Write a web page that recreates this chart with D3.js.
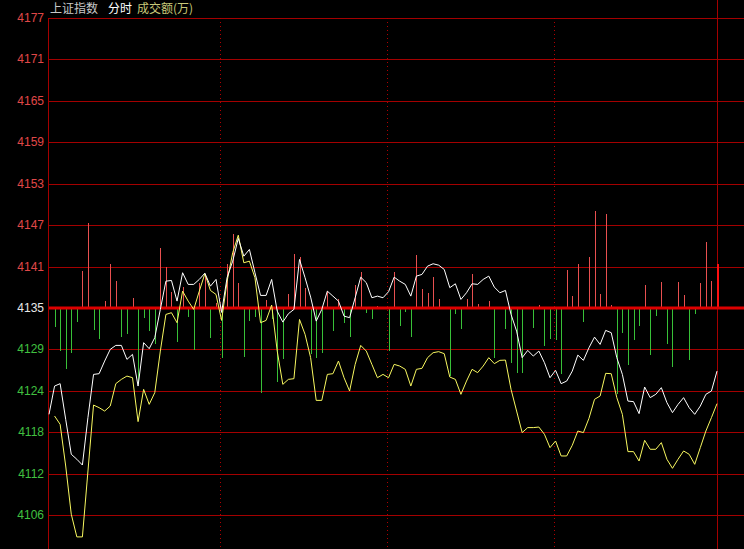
<!DOCTYPE html>
<html>
<head>
<meta charset="utf-8">
<script src="https://cdn.jsdelivr.net/npm/d3@7"></script>
<style>
  html, body { margin: 0; padding: 0; background: #000; }
  svg { display: block; }
</style>
</head>
<body>
<div id="area"></div>
<script>
var width = 744;
var height = 549;

var prevClose = 4135;
var tickStep = 5.9;
var tickLabels = ["4106", "4112", "4118", "4124", "4129", "4135", "4141", "4147", "4153", "4159", "4165", "4171", "4177"];
var sessionMarks = [30.7, 60.7, 90.7];   // hourly dotted lines (in sample units)

// white line: 上证指数 (weighted)
var indexLine = [
  4119.84, 4123.87, 4124.21, 4119.13, 4114.15, 4113.44, 4112.62, 4119.41, 4125.53, 4125.63,
  4127.43, 4129.09, 4129.66, 4129.66, 4127.67, 4128.38, 4123.87, 4130.05, 4129.19, 4130.76,
  4134.79, 4138.81, 4138.91, 4135.97, 4140.01, 4138.35, 4138.35, 4139.06, 4139.95, 4138.10,
  4139.06, 4134.36, 4139.34, 4141.66, 4144.90, 4142.37, 4143.33, 4140.01, 4136.78, 4136.78,
  4139.06, 4134.54, 4132.98, 4134.17, 4134.79, 4141.90, 4139.30, 4136.54, 4133.12, 4134.79,
  4137.39, 4136.68, 4135.97, 4133.83, 4133.61, 4136.45, 4139.38, 4138.59, 4136.45, 4136.68,
  4136.45, 4137.31, 4139.38, 4138.81, 4138.35, 4136.68, 4139.53, 4139.77, 4140.95, 4141.29,
  4141.09, 4140.48, 4137.88, 4138.44, 4136.21, 4137.16, 4138.44, 4138.35, 4139.06, 4139.53,
  4137.96, 4137.16, 4137.49, 4134.07, 4131.70, 4127.91, 4128.95, 4128.14, 4128.85, 4127.20,
  4125.06, 4126.10, 4124.21, 4124.58, 4126.00, 4128.28, 4127.53, 4129.33, 4130.84, 4129.80,
  4131.80, 4131.47, 4127.91, 4125.53, 4121.73, 4121.65, 4119.94, 4123.73, 4122.22, 4122.69,
  4123.64, 4121.51, 4120.08, 4121.26, 4122.22, 4120.79, 4119.84, 4121.02, 4122.69, 4123.16,
  4126.00
];

// yellow line: unweighted average
var leadLine = [
  null,    4119.60, 4118.42, 4112.48, 4105.61, 4102.38, 4102.38, 4111.77, 4121.16, 4120.79,
  4120.31, 4121.02, 4124.21, 4124.82, 4125.29, 4125.06, 4118.80, 4123.40, 4121.26, 4122.93,
  4128.85, 4134.07, 4134.32, 4132.89, 4137.39, 4135.97, 4134.79, 4137.39, 4139.87, 4137.49,
  4136.92, 4133.22, 4138.81, 4142.86, 4145.36, 4141.43, 4141.66, 4139.30, 4132.89, 4133.22,
  4135.40, 4128.85, 4124.11, 4124.82, 4124.92, 4133.36, 4131.23, 4127.91, 4121.83, 4121.83,
  4125.53, 4125.63, 4127.43, 4125.06, 4123.16, 4126.96, 4129.66, 4128.85, 4126.96, 4125.06,
  4125.53, 4125.06, 4126.96, 4126.72, 4126.25, 4123.87, 4126.25, 4126.39, 4127.91, 4128.62,
  4128.77, 4128.48, 4125.15, 4124.82, 4122.69, 4124.58, 4126.25, 4125.78, 4126.72, 4127.91,
  4127.06, 4127.53, 4127.57, 4123.40, 4120.31, 4117.24, 4117.95, 4117.95, 4118.03, 4117.00,
  4115.10, 4116.04, 4113.91, 4113.91, 4115.43, 4117.46, 4117.24, 4119.27, 4121.98, 4122.45,
  4125.68, 4125.63, 4122.22, 4119.84, 4114.53, 4114.53, 4113.19, 4116.14, 4114.86, 4114.86,
  4115.81, 4113.44, 4112.15, 4113.44, 4114.62, 4114.15, 4112.72, 4115.10, 4117.46, 4119.37,
  4121.36
];

// red / green strength bars, in index points around the previous close
var strength = [
   0.00, -2.73, -6.15, -8.75, -6.38, -1.96,  5.24, 12.12, -3.16, -4.44,
   0.92,  6.29,  3.81, -4.16, -3.77,  1.35,-10.89, -1.49, -3.30, -5.12,
   8.54,  5.76,  2.21, -4.87,  2.92, -1.28, -6.05,  3.49,  4.77, -4.30,
   0.71, -7.19,  6.19, 10.46,  3.59, -6.97, -1.88, -1.28,-12.07,  1.07,
  -1.64,-10.60, -7.33,  1.92,  7.61,  7.19,  2.77, -6.62, -7.09, -6.38,
   2.35, -3.27,  1.21, -2.11, -4.13,  3.20,  5.12, -0.74, -1.57,  0.21,
   0.00, -6.19,  5.05, -2.59, -0.57, -4.13,  7.47,  2.63,  2.16,  4.34,
   1.21,  0.14, -9.71, -0.85, -2.96,  1.21,  4.77,  0.50,  0.14,  0.92,
  -7.14,  0.00, -3.06, -7.80, -9.22, -9.22,  0.00, -2.82,  0.36, -5.44,
  -4.41, -4.55, -9.39,  5.34,  1.68,  6.30, -1.99,  7.19, 13.80,  2.02,
  13.31,  0.40,-12.31, -3.59, -8.14, -4.62, -2.59,  3.23, -6.72, -1.17,
   3.63, -5.15, -8.40,  3.63,  1.78, -7.47, -0.88,  3.59,  9.46,  3.81,
   6.30
];

var svg = d3.select("#area").append("svg")
    .attr("width", width)
    .attr("height", height)
    .style("background", "#000");

var x = d3.scaleLinear().domain([0, indexLine.length - 1]).range([49, 717]);
var y = d3.scaleLinear()
    .domain([prevClose - 5 * tickStep, prevClose + 7 * tickStep])
    .range([515, 18]);

var ticks = tickLabels.map(function(t, i) { return { label: t, v: prevClose + (i - 5) * tickStep }; });

// horizontal grid
svg.append("g")
    .selectAll("line")
    .data(ticks)
    .enter().append("line")
    .attr("x1", 49).attr("x2", width)
    .attr("y1", function(d) { return Math.round(y(d.v)) + 0.5; })
    .attr("y2", function(d) { return Math.round(y(d.v)) + 0.5; })
    .attr("stroke", "#a40000")
    .style("shape-rendering", "crispEdges");

// dotted session lines
svg.append("g")
    .selectAll("line")
    .data(sessionMarks)
    .enter().append("line")
    .attr("x1", function(d) { return Math.round(x(d)) + 0.5; })
    .attr("x2", function(d) { return Math.round(x(d)) + 0.5; })
    .attr("y1", 18).attr("y2", height)
    .attr("stroke", "#b00000")
    .attr("stroke-dasharray", "1,3")
    .style("shape-rendering", "crispEdges");

// left axis line and right end line
svg.append("line")
    .attr("x1", 48.5).attr("x2", 48.5).attr("y1", 18).attr("y2", height)
    .attr("stroke", "#a40000").style("shape-rendering", "crispEdges");
svg.append("line")
    .attr("x1", Math.round(x(indexLine.length - 1)) + 0.5)
    .attr("x2", Math.round(x(indexLine.length - 1)) + 0.5)
    .attr("y1", 0).attr("y2", height)
    .attr("stroke", "#a40000").style("shape-rendering", "crispEdges");

// strength bars
svg.append("g")
    .selectAll("line")
    .data(strength)
    .enter().append("line")
    .attr("x1", function(d, i) { return Math.round(x(i)) + 0.5; })
    .attr("x2", function(d, i) { return Math.round(x(i)) + 0.5; })
    .attr("y1", y(prevClose))
    .attr("y2", function(d) { return y(prevClose + d); })
    .attr("stroke", function(d, i) {
        if (i == strength.length - 1) return "#ff1010";
        return d >= 0 ? "#e85050" : "#38c038";
    })
    .attr("stroke-width", function(d, i) { return i == strength.length - 1 ? 2 : 1; })
    .style("shape-rendering", "crispEdges");

// prev close baseline (thick)
svg.append("line")
    .attr("x1", 49).attr("x2", width)
    .attr("y1", y(prevClose)).attr("y2", y(prevClose))
    .attr("stroke", "#dd0000")
    .attr("stroke-width", 3);

var line = d3.line()
    .defined(function(d) { return d != null; })
    .x(function(d, i) { return x(i); })
    .y(function(d) { return y(d); });

svg.append("path")
    .datum(leadLine)
    .attr("d", line)
    .attr("fill", "none")
    .attr("stroke", "#f8f860")
    .attr("stroke-width", 1);

svg.append("path")
    .datum(indexLine)
    .attr("d", line)
    .attr("fill", "none")
    .attr("stroke", "#ffffff")
    .attr("stroke-width", 1);

// y labels
svg.append("g")
    .selectAll("text")
    .data(ticks)
    .enter().append("text")
    .attr("x", 44)
    .attr("y", function(d) { return y(d.v) + 4; })
    .attr("text-anchor", "end")
    .attr("font-family", "Liberation Sans, Arial, sans-serif")
    .attr("font-size", 12)
    .attr("fill", function(d, i) { return i > 5 ? "#e04848" : (i == 5 ? "#e8e8e8" : "#40c040"); })
    .text(function(d) { return d.label; });

// title
var title = svg.append("text")
    .attr("x", 50).attr("y", 13)
    .attr("font-family", "Noto Sans CJK SC, sans-serif")
    .attr("font-size", 12);
title.append("tspan").attr("fill", "#c8c8c8").text("上证指数");
title.append("tspan").attr("fill", "#ffffff").attr("dx", 10).text("分时");
title.append("tspan").attr("fill", "#c8c878").attr("dx", 5).text("成交额(万)");
</script>
</body>
</html>
